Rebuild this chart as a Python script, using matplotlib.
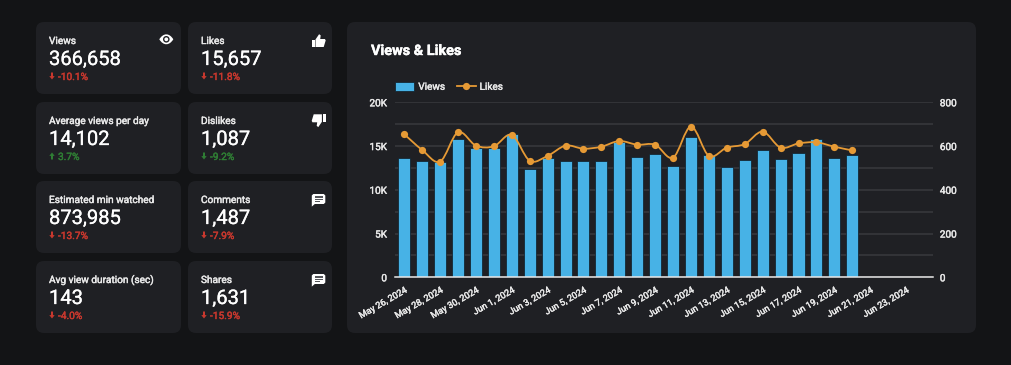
import matplotlib
matplotlib.use("Agg")
import matplotlib.pyplot as plt
import matplotlib.patheffects as pe
import numpy as np
import pandas as pd
from matplotlib.lines import Line2D
from matplotlib.patches import Circle, FancyBboxPatch, PathPatch, Polygon, Rectangle
from matplotlib.path import Path
from matplotlib.ticker import FuncFormatter, MultipleLocator
from matplotlib.transforms import ScaledTranslation

plt.rcParams['font.family'] = ['Roboto', 'DejaVu Sans']

W, H = 1011, 365

# chart data
days = pd.date_range("2024-05-26", "2024-06-24")
views = [13670, 13290, 13140, 15810, 14820, 14820, 16380, 12380, 13600, 13290,
         13290, 13290, 15500, 13710, 14090, 12720, 16000, 13980, 12610, 13410,
         14550, 13520, 14240, 15770, 13600, 13980]
likes = [654, 582, 529, 663, 602, 599, 651, 533, 555, 602,
         588, 597, 623, 606, 606, 547, 689, 555, 593, 609,
         666, 593, 612, 617, 597, 580]

# scorecards
card_labels = ["Views", "Likes", "Average views per day", "Dislikes",
               "Estimated min watched", "Comments", "Avg view duration (sec)", "Shares"]
card_values = ["366,658", "15,657", "14,102", "1,087", "873,985", "1,487", "143", "1,631"]
card_deltas = ["-10.1%", "-11.8%", "3.7%", "-9.2%", "-13.7%", "-7.9%", "-4.0%", "-15.9%"]
card_good = [False, False, True, True, False, False, False, False]
card_up = [False, False, True, False, False, False, False, False]
card_icons = ["eye", "up", None, "down", None, "chat", None, "chat"]

BG = "#131416"
CARD = "#1f2024"
GRID = "#393a3d"
TXT = "#e8e8e8"
BLUE = "#47b2e6"
ORANGE = "#e69a35"
RED = "#c8382e"
GREEN = "#2f7d34"

fig = plt.figure(figsize=(W / 100, H / 100), dpi=100, facecolor=BG)

# backdrop in pixel coordinates, y pointing down
bg = fig.add_axes([0, 0, 1, 1], zorder=0)
bg.set_xlim(0, W)
bg.set_ylim(H, 0)
bg.axis("off")


def heavier(color, lw=0.3):
    # the reference text is a little heavier than the regular Roboto
    return [pe.withStroke(linewidth=lw, foreground=color)]


def card(x0, y0, x1, y1):
    r = 8
    bg.add_patch(FancyBboxPatch((x0 + r, y0 + r), x1 - x0 - 2 * r, y1 - y0 - 2 * r,
                                boxstyle=f"round,pad={r},rounding_size={r}",
                                fc=CARD, ec="none"))


def eye(x, y):
    lens = Path([(x, y + 5), (x + 4, y - 1.6), (x + 10, y - 1.6), (x + 14, y + 5),
                 (x + 10, y + 11.6), (x + 4, y + 11.6), (x, y + 5), (x, y + 5)],
                [Path.MOVETO, Path.CURVE4, Path.CURVE4, Path.CURVE4,
                 Path.CURVE4, Path.CURVE4, Path.CURVE4, Path.CLOSEPOLY])
    bg.add_patch(PathPatch(lens, fc="white", ec="none"))
    bg.add_patch(Circle((x + 7, y + 5), 3.3, fc=CARD, ec="none"))
    bg.add_patch(Circle((x + 7, y + 5), 1.9, fc="white", ec="none"))


def thumb(x, y, down=False):
    cuff = [(0, 5.5), (3, 5.5), (3, 13), (0, 13)]
    hand = [(3.8, 5.5), (7.4, 0.2), (9, 1.4), (8.5, 5), (13.2, 5), (14, 6.4), (12, 13), (3.8, 13)]
    for pts in (cuff, hand):
        if down:
            pts = [(14 - a, 13 - b) for a, b in pts]
        bg.add_patch(Polygon([(x + a, y + b) for a, b in pts], fc="white", ec="none"))


def chat(x, y):
    r = 1.5
    bubble = [(x + r, y), (x + 13.5 - r, y), (x + 13.5, y + r), (x + 13.5, y + 10 - r),
              (x + 13.5 - r, y + 10), (x + 3, y + 10), (x, y + 12.6), (x, y + r)]
    bg.add_patch(Polygon(bubble, fc="white", ec="none"))
    bg.add_patch(Rectangle((x + 2.8, y + 2.4), 8, 1.3, fc="#55565a", ec="none"))
    bg.add_patch(Rectangle((x + 2.8, y + 4.5), 8, 1.3, fc="#55565a", ec="none"))
    bg.add_patch(Rectangle((x + 2.8, y + 6.6), 5, 1.3, fc="#55565a", ec="none"))


def arrow(x, y, up, color):
    # y is the text baseline
    if up:
        pts = [(x, y - 7), (x + 2.7, y - 3.6), (x + 1, y - 3.6), (x + 1, y), (x - 1, y), (x - 1, y - 3.6), (x - 2.7, y - 3.6)]
    else:
        pts = [(x, y), (x + 2.7, y - 3.4), (x + 1, y - 3.4), (x + 1, y - 7), (x - 1, y - 7), (x - 1, y - 3.4), (x - 2.7, y - 3.4)]
    bg.add_patch(Polygon(pts, fc=color, ec="none"))


rows = [22, 102, 181, 261]
cols = [(36, 181), (188, 332)]
for i, label in enumerate(card_labels):
    top = rows[i // 2]
    left, right = cols[i % 2]
    card(left, top, right, top + 72)
    tx = left + 13
    bg.text(tx, top + 22, label, color=TXT, fontsize=7.25, va="baseline", path_effects=heavier(TXT))
    bg.text(tx, top + 43, card_values[i], color="white", fontsize=14.5, va="baseline", path_effects=heavier("white", 0.2))
    color = GREEN if card_good[i] else RED
    arrow(tx + 3, top + 57.5, card_up[i], color)
    bg.text(tx + 9, top + 58, card_deltas[i], color=color, fontsize=7.3, va="baseline", path_effects=heavier(color))
    if card_icons[i] == "eye":
        eye(159.3, 34.3)
    elif card_icons[i] == "up":
        thumb(311.7, top + 12)
    elif card_icons[i] == "down":
        thumb(311.7, top + 12.3, down=True)
    elif card_icons[i] == "chat":
        chat(311.8, top + 13)

card(347, 22, 976, 333)
bg.text(371, 55, "Views & Likes", color="white", fontsize=10.4, fontweight="bold", va="baseline",
        path_effects=heavier("white", 0.3))

# chart axes, placed by pixel edges
px0, px1, py0, py1 = 395.3, 932.9, 102.3, 277.3
ax = fig.add_axes([px0 / W, 1 - py1 / H, (px1 - px0) / W, (py1 - py0) / H], zorder=1)
ax.patch.set_visible(False)
x = np.arange(len(days))
xv = x[:len(views)]

ax.bar(xv, views, width=0.67, color=BLUE, edgecolor="#0d1a24", linewidth=0.5, zorder=3, label="Views")
ax.set_xlim(-0.5, len(days) - 0.5)
ax.set_ylim(0, 20000)
ax.yaxis.set_major_locator(MultipleLocator(5000))
ax.yaxis.set_minor_locator(MultipleLocator(2500))
ax.yaxis.set_major_formatter(FuncFormatter(lambda v, p: "0" if v == 0 else f"{v / 1000:.0f}K"))
ax.grid(True, axis="y", which="both", color=GRID, linewidth=1.1, zorder=0)
ax.set_axisbelow(True)
ax.set_xticks(x[::2])
ax.set_xticklabels([f"{d:%b} {d.day}, {d.year}" for d in days[::2]], rotation=30, ha="right",
                   rotation_mode="anchor", fontsize=6.5, color=TXT)
shift = ScaledTranslation(-3 / 72, 0, fig.dpi_scale_trans)
for lab in ax.get_xticklabels():
    lab.set_transform(lab.get_transform() + shift)
    lab.set_path_effects(heavier(TXT))
ax.tick_params(axis="both", which="both", length=0)
ax.tick_params(axis="y", labelsize=7.2, labelcolor=TXT, pad=6)
ax.tick_params(axis="x", pad=6)
for lab in ax.get_yticklabels():
    lab.set_path_effects(heavier(TXT))
for name in ("top", "left", "right"):
    ax.spines[name].set_visible(False)
ax.spines["bottom"].set_color("#e8e8e8")
ax.spines["bottom"].set_linewidth(1.1)
ax.spines["bottom"].set_zorder(5)

ax2 = ax.twinx()
ax2.set_position(ax.get_position())
ax2.set_zorder(2)
ax2.patch.set_visible(False)
ax2.set_ylim(0, 800)
ax2.yaxis.set_major_locator(MultipleLocator(200))
ax2.tick_params(axis="y", length=0, labelsize=7.2, labelcolor=TXT, pad=5)
for lab in ax2.get_yticklabels():
    lab.set_path_effects(heavier(TXT))
for spine in ax2.spines.values():
    spine.set_visible(False)

# smooth connecting curve through the points (Catmull-Rom as Bezier segments)
pts = np.column_stack([xv, likes]).astype(float)
verts = [pts[0]]
codes = [Path.MOVETO]
for i in range(len(pts) - 1):
    p0 = pts[max(i - 1, 0)]
    p1 = pts[i]
    p2 = pts[i + 1]
    p3 = pts[min(i + 2, len(pts) - 1)]
    verts += [p1 + (p2 - p0) / 6, p2 - (p3 - p1) / 6, p2]
    codes += [Path.CURVE4] * 3
ax2.add_patch(PathPatch(Path(verts, codes), fc="none", ec=ORANGE, lw=1.3, zorder=4))
ax2.plot(xv, likes, ls="none", marker="o", ms=5.2, mfc=ORANGE, mec=ORANGE, mew=0, zorder=5)

handles = [Rectangle((0, 0), 1, 1, fc=BLUE, ec="#0d1a24", lw=0.5),
           Line2D([], [], color=ORANGE, lw=1.3, marker="o", ms=5.2, mew=0)]
leg = ax2.legend(handles, ["Views", "Likes"], ncol=2, frameon=False, fontsize=7.2,
                 labelcolor=TXT, handlelength=1.9, handleheight=1.0, handletextpad=0.4,
                 columnspacing=1.15, borderaxespad=0, borderpad=0,
                 loc="lower left", bbox_to_anchor=(0, 1.06))
for t in leg.get_texts():
    t.set_path_effects(heavier(TXT))

fig.savefig("out.png", dpi=100, facecolor=BG)
